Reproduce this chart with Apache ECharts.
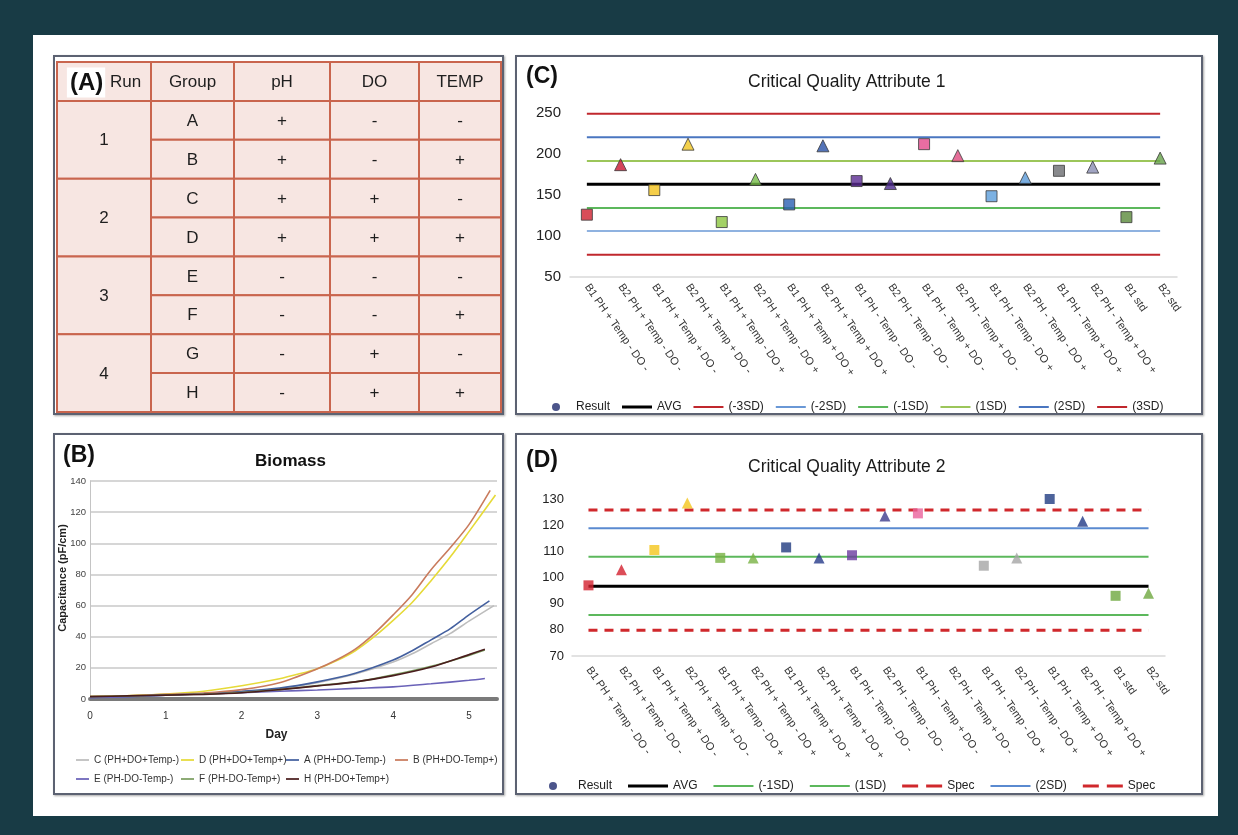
<!DOCTYPE html>
<html>
<head>
<meta charset="utf-8">
<script src="https://cdn.jsdelivr.net/npm/echarts@6/dist/echarts.min.js"></script>
<style>
  html, body { margin: 0; padding: 0; }
  body { width: 1238px; height: 835px; background: #183b45; position: relative; overflow: hidden; }
  .sheet { position: absolute; left: 33px; top: 35px; width: 1185px; height: 781px; background: #ffffff; }
  .panel { position: absolute; box-sizing: border-box; border: 2px solid #5c6272; background: #fff;
           box-shadow: 1px 1px 2px rgba(0,0,0,0.35); }
  .chart { position: absolute; left: 0; top: 0; width: 100%; height: 100%; }
</style>
</head>
<body>
<div class="sheet"></div>
<div class="panel" style="left:53px;top:55px;width:451px;height:360px"><div id="chartA" class="chart"></div></div>
<div class="panel" style="left:53px;top:433px;width:451px;height:362px"><div id="chartB" class="chart"></div></div>
<div class="panel" style="left:515px;top:55px;width:688px;height:360px"><div id="chartC" class="chart"></div></div>
<div class="panel" style="left:515px;top:433px;width:688px;height:362px"><div id="chartD" class="chart"></div></div>

<script>
// ---------- (A) experimental design table ----------
const tableHeader = ['Run', 'Group', 'pH', 'DO', 'TEMP'];
const runs = ['1', '2', '3', '4'];
const groups = ['A', 'B', 'C', 'D', 'E', 'F', 'G', 'H'];
const phLevels = ['+', '+', '+', '+', '-', '-', '-', '-'];
const doLevels = ['-', '-', '+', '+', '-', '-', '+', '+'];
const tempLevels = ['-', '+', '-', '+', '-', '+', '-', '+'];

// ---------- (B) biomass curves: [day, capacitance pF/cm] ----------
const biomassC = [[0,1.2],[0.5,1.6],[1,2.5],[1.5,3.4],[2,4.6],[2.5,6.6],[3,10.5],[3.5,16],[4,23.7],[4.25,29],[4.5,35.5],[4.75,42],[5,50],[5.33,60]];
const biomassD = [[0,1.5],[0.5,2.2],[1,3.2],[1.5,5],[2,8.5],[2.5,13],[2.75,16],[3,19.5],[3.25,24.5],[3.5,31],[3.75,40],[4,50.5],[4.25,62],[4.5,76],[4.75,91],[5,107.5],[5.35,131]];
const biomassA = [[0,1],[0.5,1.5],[1,2.5],[1.5,3.5],[2,5],[2.5,7],[3,11],[3.5,16.5],[4,25],[4.25,31],[4.5,38],[4.75,45],[5,54],[5.27,63]];
const biomassB = [[0,1.5],[0.5,2],[1,3],[1.5,3.8],[2,6],[2.5,10.5],[3,19.4],[3.25,25],[3.5,32],[3.75,42],[4,54],[4.25,67],[4.5,83],[4.75,97],[5,112],[5.28,134]];
const biomassE = [[0,0.8],[0.5,1.5],[1,2.5],[1.5,3.2],[2,4],[2.5,5],[3,5.8],[3.5,6.8],[4,7.8],[4.5,9.8],[5,12],[5.21,13.2]];
const biomassF = [[0,1.5],[0.5,2],[1,2.6],[1.5,3.2],[2,4.2],[2.5,6],[3,8.6],[3.5,11],[4,15.5],[4.5,21],[5,28],[5.21,31.5]];
const biomassH = [[0,1.5],[0.5,2],[1,2.5],[1.5,3],[2,4],[2.5,6],[3,8.4],[3.5,11],[4,15],[4.5,20.5],[5,28.5],[5.21,32]];
const biomassNames = ['C (PH+DO+Temp-)', 'D (PH+DO+Temp+)', 'A (PH+DO-Temp-)', 'B (PH+DO-Temp+)',
                      'E (PH-DO-Temp-)', 'F (PH-DO-Temp+)', 'H (PH-DO+Temp+)'];
const dayTicks = [0, 1, 2, 3, 4, 5];

// ---------- (C) / (D) control charts ----------
const runCategories = [
  'B1 PH + Temp - DO -', 'B2 PH + Temp - DO -', 'B1 PH + Temp + DO -', 'B2 PH + Temp + DO -',
  'B1 PH + Temp - DO +', 'B2 PH + Temp - DO +', 'B1 PH + Temp + DO +', 'B2 PH + Temp + DO +',
  'B1 PH - Temp - DO -', 'B2 PH - Temp - DO -', 'B1 PH - Temp + DO -', 'B2 PH - Temp + DO -',
  'B1 PH - Temp - DO +', 'B2 PH - Temp - DO +', 'B1 PH - Temp + DO +', 'B2 PH - Temp + DO +',
  'B1 std', 'B2 std'
];
const cqa1Values = [126, 187, 156, 212, 117, 169, 138.5, 210, 167, 164, 212, 198, 148.5, 171, 179.5, 184, 123, 195];
const cqa1LimitNames = ['AVG', '(-3SD)', '(-2SD)', '(-1SD)', '(1SD)', '(2SD)', '(3SD)'];
const cqa1LimitValues = [163, 77, 106, 134, 191.5, 220.5, 249];

const cqa2Values = [97, 103, 110.5, 128.5, 107.5, 107.5, 111.5, 107.5, 108.5, 123.5, 124.5, 131.5, 104.5, 107.5, 130, 121.5, 93, 94];
const cqa2LimitNames = ['AVG', '(-1SD)', '(1SD)', 'Spec-low', '(2SD)', 'Spec-high'];
const cqa2LimitValues = [96.7, 85.7, 107.9, 79.8, 118.8, 125.8];

// ---------- styling / layout ----------
const FONT = "'Liberation Sans', Arial, sans-serif";
const COL_EDGES = [0, 94, 177, 273, 362, 444];        // table column boundaries
const B_LEGEND_COLS = [21, 126, 231, 340];             // biomass legend column x positions
const B_LEGEND_ROWS = [320, 339];                      // biomass legend row y positions
const biomassColors = ['#bdbdbd', '#e6da38', '#44609f', '#c97b5d', '#6a62b8', '#7c9f62', '#4a1d1d'];
const cqa1MarkerColors = ['#d0202f','#c8172f','#f2c21b','#f0c41f','#8cc640','#76bd47','#2b5fb3','#2850a6','#5b2c92','#4d2c8f','#e4498b','#df4a7f','#5b9ddb','#5a9ad8','#6b6d70','#8a8db3','#5a8a3a','#66a24a'];
const cqa2MarkerColors = ['#d3202e','#d3202e','#f4c61c','#f4c61c','#78b143','#78b143','#203b80','#25398a','#6a3b9f','#3c3b8c','#ea619b','#ea619b','#a5a5a5','#a5a5a5','#213c82','#223a86','#6ea83f','#6ea83f'];
const cqa1LineStyles = {
  'AVG':    { color: '#000000', width: 3 },
  '(-3SD)': { color: '#c0272d', width: 2 },
  '(-2SD)': { color: '#6a98d6', width: 1.5 },
  '(-1SD)': { color: '#5cb85c', width: 2 },
  '(1SD)':  { color: '#9cc65a', width: 2 },
  '(2SD)':  { color: '#4a76c0', width: 2 },
  '(3SD)':  { color: '#c0272d', width: 2 }
};
const cqa2LineStyles = {
  'AVG':       { color: '#000000', width: 3 },
  '(-1SD)':    { color: '#5cb85c', width: 2 },
  '(1SD)':     { color: '#5cb85c', width: 2 },
  'Spec-low':  { color: '#d0282c', width: 3, type: [9, 7] },
  '(2SD)':     { color: '#5a8ad0', width: 2 },
  'Spec-high': { color: '#d0282c', width: 3, type: [9, 7] }
};

// legend glyphs: a plain bar for solid lines, two bars for dashed lines
function lineIcon(w, h) { return 'path://M0,0H' + w + 'V' + h + 'H0Z'; }
function dashIcon(w, h) {
  const d = Math.round(w * 0.4);
  return 'path://M0,0H' + d + 'V' + h + 'H0Z M' + (w - d) + ',0H' + w + 'V' + h + 'H' + (w - d) + 'Z';
}

// ================= (A) table =================
(function () {
  const cells = [];
  tableHeader.forEach((h, c) => cells.push({ col: c, row: 0, span: 1, text: c === 0 ? '{a|(A)} ' + h : h }));
  runs.forEach((r, i) => cells.push({ col: 0, row: 1 + i * 2, span: 2, text: r }));
  groups.forEach((g, i) => {
    cells.push({ col: 1, row: 1 + i, span: 1, text: g });
    cells.push({ col: 2, row: 1 + i, span: 1, text: phLevels[i] });
    cells.push({ col: 3, row: 1 + i, span: 1, text: doLevels[i] });
    cells.push({ col: 4, row: 1 + i, span: 1, text: tempLevels[i] });
  });
  const chart = echarts.init(document.getElementById('chartA'));
  chart.setOption({
    animation: false,
    grid: { left: 2, top: 5, width: 444, height: 350, outerBoundsMode: 'none' },
    xAxis: { type: 'value', min: 0, max: COL_EDGES[COL_EDGES.length - 1], show: false },
    yAxis: { type: 'value', min: 0, max: groups.length + 1, inverse: true, show: false },
    series: [{
      type: 'custom',
      clip: false,
      data: cells.map(c => [c.col, c.row]),
      renderItem: function (params, api) {
        const cell = cells[params.dataIndex];
        const p0 = api.coord([COL_EDGES[cell.col], cell.row]);
        const p1 = api.coord([COL_EDGES[cell.col + 1], cell.row + cell.span]);
        return {
          type: 'group',
          children: [
            { type: 'rect', shape: { x: p0[0], y: p0[1], width: p1[0] - p0[0], height: p1[1] - p0[1] },
              style: { fill: '#f7e6e2', stroke: '#c9654e', lineWidth: 2 } },
            { type: 'text',
              style: { text: cell.text, x: (p0[0] + p1[0]) / 2, y: (p0[1] + p1[1]) / 2 + 1,
                       align: 'center', verticalAlign: 'middle', fontSize: 17, fontFamily: FONT, fill: '#1e1e1e',
                       rich: { a: { fontSize: 24, fontWeight: 'bold', fontFamily: FONT, fill: '#111',
                                    backgroundColor: '#ffffff', padding: [4, 2, 2, 3] } } } }
          ]
        };
      }
    }]
  });
})();

// ================= (B) biomass =================
(function () {
  const datasets = [biomassC, biomassD, biomassA, biomassB, biomassE, biomassF, biomassH];
  const chart = echarts.init(document.getElementById('chartB'));
  chart.setOption({
    animation: false,
    textStyle: { fontFamily: FONT },
    title: [
      { text: '(B)', left: 3, top: 4, textStyle: { fontSize: 23, fontWeight: 'bold', color: '#111', fontFamily: FONT } },
      { text: 'Biomass', left: 195, top: 13, textStyle: { fontSize: 17, fontWeight: 'bold', color: '#111', fontFamily: FONT } }
    ],
    grid: { left: 35, right: 5, top: 46, bottom: 94, outerBoundsMode: 'none' },
    xAxis: {
      type: 'value', min: 0, max: 5.37, interval: 1,
      name: 'Day', nameLocation: 'middle', nameGap: 30, nameMoveOverlap: false,
      nameTextStyle: { fontSize: 12, fontWeight: 'bold', color: '#222', padding: [0, 34, 0, 0] },
      axisLine: { show: true, onZero: false, lineStyle: { color: '#7a7a7a', width: 4 } },
      axisTick: { show: false },
      axisLabel: { fontSize: 10, color: '#333', margin: 12, showMaxLabel: false,
                   formatter: v => (dayTicks.indexOf(v) >= 0 ? String(v) : '') },
      splitLine: { show: false }
    },
    yAxis: {
      type: 'value', min: 0, max: 140, interval: 20,
      name: 'Capacitance (pF/cm)', nameLocation: 'middle', nameGap: 22, nameRotate: 90, nameMoveOverlap: false,
      nameTextStyle: { fontSize: 11, fontWeight: 'bold', color: '#222', padding: [0, 0, 0, 24] },
      axisLine: { show: true, lineStyle: { color: '#c4c4c4', width: 1 } },
      axisTick: { show: false },
      axisLabel: { fontSize: 9.5, color: '#444', margin: 4 },
      splitLine: { lineStyle: { color: '#c8c8c8', width: 1.5 } }
    },
    // one legend per entry, laid out on a 4-column grid
    legend: biomassNames.map((n, i) => ({
      data: [{ name: n, icon: lineIcon(15, 2) }],
      left: B_LEGEND_COLS[i < 4 ? i : i - 4], top: B_LEGEND_ROWS[i < 4 ? 0 : 1],
      itemWidth: 13, itemHeight: 8, padding: 0,
      textStyle: { fontSize: 10, color: '#333', fontFamily: FONT }
    })),
    series: datasets.map((d, i) => ({
      name: biomassNames[i], type: 'line', data: d, symbol: 'none', smooth: 0.3,
      lineStyle: { color: biomassColors[i], width: 1.6 }, itemStyle: { color: biomassColors[i] }
    }))
  });
})();

// ================= (C) / (D) control charts =================
function controlChart(el, cfg) {
  const chart = echarts.init(document.getElementById(el));
  const first = runCategories[0], last = runCategories[runCategories.length - 1];
  const limitSeries = cfg.limitNames.map((n, i) => ({
    name: n, type: 'line', symbol: 'none', z: 2,
    data: [[first, cfg.limitValues[i]], [last, cfg.limitValues[i]]],
    lineStyle: Object.assign({}, cfg.lineStyles[n]), itemStyle: { color: cfg.lineStyles[n].color }
  }));
  const resultSeries = {
    name: 'Result', type: 'scatter', z: 5,
    data: cfg.values.map((v, i) => ({
      value: [runCategories[i], v],
      symbol: i % 2 === 0 ? 'rect' : 'triangle',
      symbolSize: i % 2 === 0 ? cfg.squareSize : cfg.triSize,
      itemStyle: { color: cfg.colors[i], borderColor: cfg.border, borderWidth: cfg.border ? 1 : 0 }
    }))
  };
  const w = cfg.legendItemWidth;
  const legendData = [{ name: 'Result', icon: 'circle', itemStyle: { color: '#1f2b6e', borderWidth: 0 } }]
    .concat(cfg.limitNames.map(n => {
      const s = cfg.lineStyles[n];
      const h = s.width >= 3 ? 3 : 2;
      return { name: n, icon: s.type ? dashIcon(w, h) : lineIcon(w, h), itemStyle: { color: s.color, borderWidth: 0 } };
    }));
  chart.setOption({
    animation: false,
    textStyle: { fontFamily: FONT },
    title: [
      { text: cfg.tag, left: 4, top: cfg.tagTop, textStyle: { fontSize: 23, fontWeight: 'bold', color: '#111', fontFamily: FONT } },
      { text: cfg.title, left: 226, top: cfg.titleTop, textStyle: { fontSize: 17.5, fontWeight: 'normal', color: '#1a1a1a', fontFamily: FONT } }
    ],
    grid: Object.assign({ outerBoundsMode: 'none' }, cfg.grid),
    xAxis: {
      type: 'category', data: runCategories, boundaryGap: true,
      axisLine: { lineStyle: { color: '#d9d9d9', width: 1.5 } },
      axisTick: { show: false },
      axisLabel: { interval: 0, rotate: -55, fontSize: 11, color: '#333', margin: cfg.xMargin, fontFamily: FONT }
    },
    yAxis: {
      type: 'value', min: cfg.min, max: cfg.max, interval: cfg.interval,
      axisLine: { show: false }, axisTick: { show: false },
      axisLabel: { fontSize: cfg.yFont, color: '#222', margin: cfg.yMargin, fontFamily: FONT },
      splitLine: { show: false }
    },
    legend: {
      left: cfg.legendLeft, top: cfg.legendTop, itemWidth: w, itemHeight: 8, itemGap: cfg.legendGap,
      textStyle: { fontSize: 12, color: '#222', fontFamily: FONT },
      formatter: n => n.replace(/-(low|high)$/, ''),
      data: legendData
    },
    series: limitSeries.concat([resultSeries])
  });
}

controlChart('chartC', {
  tag: '(C)', tagTop: 3, title: 'Critical Quality Attribute 1', titleTop: 11,
  grid: { left: 53, right: 24, top: 56, height: 164 },
  min: 50, max: 250, interval: 50, yFont: 15, yMargin: 9, xMargin: 8,
  values: cqa1Values, colors: cqa1MarkerColors, border: '#3a3a3a', squareSize: 11, triSize: 12,
  limitNames: cqa1LimitNames, limitValues: cqa1LimitValues, lineStyles: cqa1LineStyles,
  legendLeft: 30, legendTop: 339, legendItemWidth: 30, legendGap: 12
});

controlChart('chartD', {
  tag: '(D)', tagTop: 9, title: 'Critical Quality Attribute 2', titleTop: 18,
  grid: { left: 55, right: 36, top: 64, height: 157 },
  min: 70, max: 130, interval: 10, yFont: 13, yMargin: 8, xMargin: 12,
  values: cqa2Values, colors: cqa2MarkerColors, border: null, squareSize: 10, triSize: 11,
  limitNames: cqa2LimitNames, limitValues: cqa2LimitValues, lineStyles: cqa2LineStyles,
  legendLeft: 27, legendTop: 340, legendItemWidth: 40, legendGap: 16
});
</script>
</body>
</html>
